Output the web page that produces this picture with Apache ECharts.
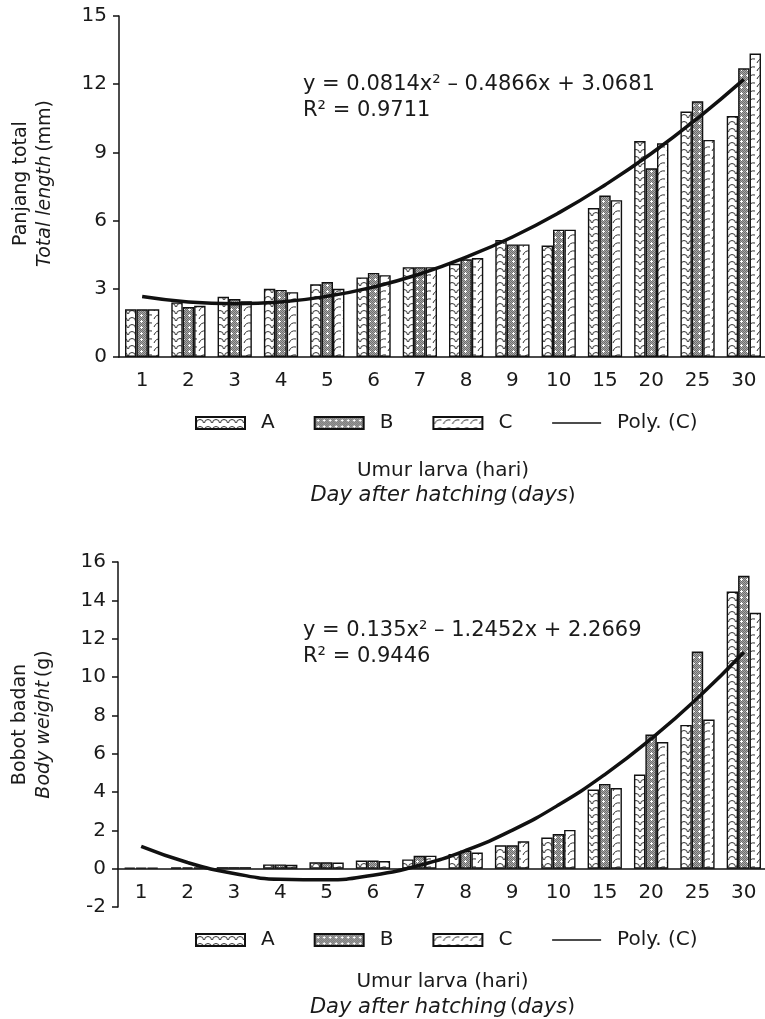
<!DOCTYPE html>
<html>
<head>
<meta charset="utf-8">
<script src="https://cdn.jsdelivr.net/npm/echarts@6/dist/echarts.min.js"></script>
<style>
  html, body { margin: 0; padding: 0; background: #fff; }
  #chart { width: 765px; height: 1019px; }
</style>
</head>
<body>
<div id="chart"></div>
<script>
// hari setelah menetas
var days = ['1', '2', '3', '4', '5', '6', '7', '8', '9', '10', '15', '20', '25', '30'];

// panjang total (mm)
var lenA = [2.1, 2.4, 2.65, 3.0, 3.2, 3.5, 3.95, 4.1, 5.15, 4.9, 6.55, 9.5, 10.8, 10.6];
var lenB = [2.1, 2.2, 2.55, 2.95, 3.3, 3.7, 3.95, 4.3, 4.95, 5.6, 7.1, 8.3, 11.25, 12.7];
var lenC = [2.1, 2.25, 2.45, 2.85, 3.0, 3.6, 3.95, 4.35, 4.95, 5.6, 6.9, 9.4, 9.55, 13.35];
var lenPoly = [2.66, 2.42, 2.34, 2.42, 2.67, 3.08, 3.65, 4.39, 5.28, 6.34, 7.57, 8.95, 10.5, 12.21];

// bobot badan (g)
var wtA = [0.06, 0.07, 0.08, 0.22, 0.33, 0.42, 0.48, 0.77, 1.22, 1.62, 4.13, 4.91, 7.5, 14.46];
var wtB = [0.06, 0.07, 0.08, 0.22, 0.33, 0.42, 0.67, 0.94, 1.22, 1.81, 4.42, 7.0, 11.33, 15.28];
var wtC = [0.06, 0.07, 0.08, 0.2, 0.32, 0.4, 0.68, 0.84, 1.43, 2.02, 4.21, 6.61, 7.78, 13.35];
var wtPoly = [1.16, 0.32, -0.25, -0.55, -0.58, -0.34, 0.17, 0.95, 2.0, 3.32, 4.91, 6.77, 8.89, 11.29];

var eqLen = ['y = 0.0814x² – 0.4866x + 3.0681', 'R² = 0.9711'];
var eqWt = ['y = 0.135x² – 1.2452x + 2.2669', 'R² = 0.9446'];

var FONT = 'DejaVu Sans';
var INK = '#1a1a1a';

// pola isian batang
function pat(w, h, draw) {
  var c = document.createElement('canvas');
  c.width = w; c.height = h;
  var g = c.getContext('2d');
  draw(g);
  return { image: c, repeat: 'repeat' };
}
var patA = pat(8, 7, function(g) {
  g.fillStyle = '#fff'; g.fillRect(0, 0, 8, 7);
  g.strokeStyle = '#333'; g.lineWidth = 1;
  g.beginPath(); g.arc(4, 6, 3.5, Math.PI, 2 * Math.PI); g.stroke();
});
var patB = pat(6, 6, function(g) {
  g.fillStyle = '#a8a8a8'; g.fillRect(0, 0, 6, 6);
  g.fillStyle = '#6e6e6e';
  for (var x = 0; x < 6; x++) for (var y = 0; y < 6; y++) if ((x + y) % 2 === 0) g.fillRect(x, y, 1, 1);
  g.fillStyle = '#fff';
  g.fillRect(3, 2, 1, 3); g.fillRect(2, 3, 3, 1);
});
var patC = pat(9, 8, function(g) {
  g.fillStyle = '#fff'; g.fillRect(0, 0, 9, 8);
  g.strokeStyle = '#333'; g.lineWidth = 1;
  g.beginPath(); g.moveTo(1, 7); g.quadraticCurveTo(3, 2, 8, 3); g.stroke();
});

function barSeries(name, data, fill, idx) {
  return {
    name: name, type: 'bar', xAxisIndex: idx, yAxisIndex: idx,
    data: data, barGap: '0%', barCategoryGap: '26%',
    itemStyle: { color: fill, borderColor: '#111', borderWidth: 1.4 },
    z: 2
  };
}
function polySeries(data, idx) {
  return {
    name: 'Poly. (C)', type: 'line', xAxisIndex: idx, yAxisIndex: idx,
    data: data, smooth: 0.5, symbol: 'none', z: 5,
    itemStyle: { color: '#111' },
    lineStyle: { color: '#111', width: 3.5 }
  };
}

var rich = {
  n: { fontFamily: FONT, fontSize: 19, color: INK, lineHeight: 24 },
  i: { fontFamily: FONT, fontSize: 19, color: INK, lineHeight: 24, fontStyle: 'italic' }
};
var richX = {
  n: { fontFamily: FONT, fontSize: 20, color: INK, lineHeight: 25 },
  i: { fontFamily: FONT, fontSize: 21, color: INK, lineHeight: 25, fontStyle: 'italic' }
};
var xName = '{n|Umur larva (hari)}\n{i|Day after hatching} {n|(}{i|days}{n|)}';

// offset: geser sumbu x ke garis nol (grid bawah punya nilai negatif)
function xAxis(idx, offset) {
  return {
    type: 'category', gridIndex: idx, data: days, position: 'bottom', offset: offset,
    axisLine: { onZero: false, lineStyle: { color: '#111', width: 1.5 } },
    axisTick: { interval: 1, length: 7, lineStyle: { color: '#111', width: 1.5 } },
    axisLabel: { interval: 0, margin: 14, fontFamily: FONT, fontSize: 20, color: INK },
    name: xName, nameLocation: 'middle', nameGap: 101,
    nameTextStyle: { rich: richX }
  };
}
function yAxis(idx, min, max, step, name, lift) {
  return {
    type: 'value', gridIndex: idx, min: min, max: max, interval: step,
    splitLine: { show: false },
    axisLine: { show: true, onZero: false, lineStyle: { color: '#111', width: 1.5 } },
    axisTick: { show: true, length: 6, lineStyle: { color: '#111', width: 1.5 } },
    axisLabel: { margin: 12, fontFamily: FONT, fontSize: 20, color: INK },
    name: name, nameLocation: 'middle', nameRotate: 90, nameGap: 62,
    nameTextStyle: { rich: rich, padding: [0, 0, 0, lift] }
  };
}
function legend(top) {
  return {
    top: top, left: 195, padding: 0, itemWidth: 49, itemHeight: 12, itemGap: 39,
    textStyle: { fontFamily: FONT, fontSize: 20, color: INK, padding: [0, 0, 0, 11] },
    data: [
      { name: 'A', icon: 'rect' },
      { name: 'B', icon: 'rect' },
      { name: 'C', icon: 'rect' },
      {
        name: 'Poly. (C)',
        itemStyle: { opacity: 0 },
        lineStyle: { color: '#111', width: 1.5, opacity: 1 }
      }
    ]
  };
}
function eqText(lines, left, top) {
  return lines.map(function(t, k) {
    return {
      type: 'text', left: left, top: top + k * 26,
      style: { text: t, fontFamily: FONT, fontSize: 21, fill: INK }
    };
  });
}

var chart = echarts.init(document.getElementById('chart'), null, { renderer: 'canvas' });
chart.setOption({
  backgroundColor: '#fff',
  animation: false,
  grid: [
    { left: 119, top: 16, width: 648, height: 341, outerBoundsMode: 'none' },
    { left: 118, top: 562, width: 649, height: 345, outerBoundsMode: 'none' }
  ],
  xAxis: [xAxis(0, 0), xAxis(1, -345 * 2 / 18)],
  yAxis: [
    yAxis(0, 0, 15, 3, '{n|Panjang total}\n{i|Total length} {n|(mm)}', 6),
    yAxis(1, -2, 16, 2, '{n|Bobot badan}\n{i|Body weight} {n|(g)}', 20)
  ],
  legend: [legend(413), legend(930)],
  graphic: eqText(eqLen, 303, 74).concat(eqText(eqWt, 303, 620)),
  series: [
    barSeries('A', lenA, patA, 0),
    barSeries('B', lenB, patB, 0),
    barSeries('C', lenC, patC, 0),
    polySeries(lenPoly, 0),
    barSeries('A', wtA, patA, 1),
    barSeries('B', wtB, patB, 1),
    barSeries('C', wtC, patC, 1),
    polySeries(wtPoly, 1)
  ]
});
</script>
</body>
</html>
